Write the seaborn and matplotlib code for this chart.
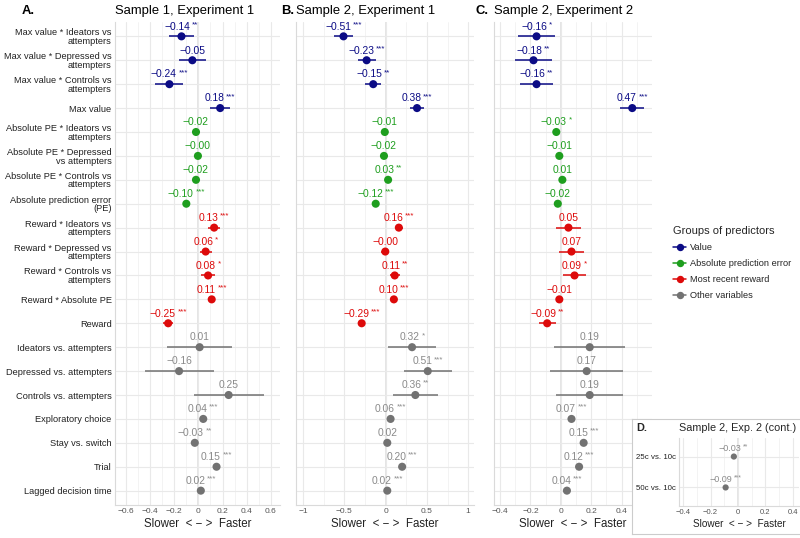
import numpy as np
import pandas as pd
import seaborn as sns
import matplotlib.pyplot as plt
from matplotlib.lines import Line2D

# predictors, top to bottom
predictors = [
    "Max value * Ideators vs\nattempters",
    "Max value * Depressed vs\nattempters",
    "Max value * Controls vs\nattempters",
    "Max value",
    "Absolute PE * Ideators vs\nattempters",
    "Absolute PE * Depressed\nvs attempters",
    "Absolute PE * Controls vs\nattempters",
    "Absolute prediction error\n(PE)",
    "Reward * Ideators vs\nattempters",
    "Reward * Depressed vs\nattempters",
    "Reward * Controls vs\nattempters",
    "Reward * Absolute PE",
    "Reward",
    "Ideators vs. attempters",
    "Depressed vs. attempters",
    "Controls vs. attempters",
    "Exploratory choice",
    "Stay vs. switch",
    "Trial",
    "Lagged decision time",
]
groups = (["Value"] * 4 + ["Absolute prediction error"] * 4
          + ["Most recent reward"] * 5 + ["Other variables"] * 7)

# Sample 1, Experiment 1
est_a = [-0.14, -0.05, -0.24, 0.18, -0.02, -0.004, -0.02, -0.10, 0.13, 0.06,
         0.08, 0.11, -0.25, 0.01, -0.16, 0.25, 0.04, -0.03, 0.15, 0.02]
ci_a = [0.105, 0.11, 0.115, 0.085, 0.02, 0.02, 0.02, 0.02, 0.05, 0.05,
        0.06, 0.025, 0.04, 0.27, 0.285, 0.29, 0.02, 0.02, 0.02, 0.02]
stars_a = ["**", "", "***", "***", "", "", "", "***", "***", "*",
           "*", "***", "***", "", "", "", "***", "**", "***", "***"]

# Sample 2, Experiment 1
est_b = [-0.51, -0.23, -0.15, 0.38, -0.01, -0.02, 0.03, -0.12, 0.16, -0.004,
         0.11, 0.10, -0.29, 0.32, 0.51, 0.36, 0.06, 0.02, 0.20, 0.02]
ci_b = [0.12, 0.11, 0.10, 0.08, 0.02, 0.02, 0.02, 0.02, 0.05, 0.05,
        0.06, 0.02, 0.04, 0.29, 0.29, 0.27, 0.02, 0.02, 0.02, 0.02]
stars_b = ["***", "***", "**", "***", "", "", "**", "***", "***", "",
           "**", "***", "***", "*", "***", "**", "***", "", "***", "***"]

# Sample 2, Experiment 2
est_c = [-0.16, -0.18, -0.16, 0.47, -0.03, -0.01, 0.01, -0.02, 0.05, 0.07,
         0.09, -0.01, -0.09, 0.19, 0.17, 0.19, 0.07, 0.15, 0.12, 0.04]
ci_c = [0.12, 0.12, 0.11, 0.08, 0.02, 0.015, 0.015, 0.015, 0.08, 0.08,
        0.075, 0.02, 0.055, 0.235, 0.24, 0.22, 0.02, 0.02, 0.02, 0.02]
stars_c = ["*", "**", "**", "***", "*", "", "", "", "", "",
           "*", "", "**", "", "", "", "***", "***", "***", "***"]

# Sample 2, Exp. 2 (cont.)
predictors_d = ["25c vs. 10c", "50c vs. 10c"]
groups_d = ["Other variables"] * 2
est_d = [-0.03, -0.09]
ci_d = [0.015, 0.02]
stars_d = ["**", "***"]

palette = {
    "Value": "#0B0B85",
    "Absolute prediction error": "#1E9E1E",
    "Most recent reward": "#DD0A0A",
    "Other variables": "#727272",
}
text_colors = dict(palette, **{"Other variables": "#8A8A8A"})

sns.set_theme(style="whitegrid")
plt.rcParams["font.family"] = ["Liberation Sans", "DejaVu Sans"]
plt.rcParams["axes.unicode_minus"] = True

W, H = 800, 538
fig = plt.figure(figsize=(W / 100, H / 100), dpi=100)


def box(l, t, r, b):
    return [l / W, 1 - b / H, (r - l) / W, (b - t) / H]


def fmt(v):
    return f"{v:.2f}".replace("-", "\u2212")


def panel(ax, names, grp, est, ci, stars, xlim, major, minor, pt=34,
          fs=7.4, sfs=5.8, lift=7, show_y=True, ytick_fs=6.7, xtick_fs=6.0,
          xlab_fs=8.3):
    df = pd.DataFrame({"row": np.arange(len(est)), "estimate": est, "ci": ci,
                       "group": grp, "stars": stars})
    ax.hlines(df["row"], df["estimate"] - df["ci"], df["estimate"] + df["ci"],
              colors=[palette[g] for g in df["group"]], lw=1.1, zorder=2)
    sns.scatterplot(data=df, x="estimate", y="row", hue="group",
                    palette=palette, s=pt, edgecolor="none", legend=False,
                    ax=ax, zorder=3)
    for _, r in df.iterrows():
        n = len(r["stars"])
        sw = n * 0.389 * sfs + (1.2 if n else 0)
        col = text_colors[r["group"]]
        t = ax.annotate(fmt(r["estimate"]), xy=(r["estimate"], r["row"]),
                        xytext=(-sw / 2, lift), textcoords="offset points",
                        ha="center", va="center", fontsize=fs, color=col,
                        zorder=4)
        if n:
            ax.annotate(r["stars"], xy=(1, 1), xycoords=t, xytext=(1.2, 0.3),
                        textcoords="offset points", ha="left", va="top",
                        fontsize=sfs, color=col, zorder=4)
    ax.set_xlim(*xlim)
    ax.set_ylim(len(est) - 1 + 0.6, -0.6)
    ax.set_xticks(major)
    ax.set_xticks(minor, minor=True)
    ax.set_xticklabels([("%g" % m).replace("-", "\u2212") for m in major],
                       fontsize=xtick_fs, color="#555555")
    ax.set_yticks(df["row"])
    if show_y:
        ax.set_yticklabels(names, fontsize=ytick_fs, color="#222222",
                           linespacing=0.95)
    else:
        ax.set_yticklabels([])
    ax.tick_params(axis="both", which="both", length=0, pad=2.5)
    ax.set_axisbelow(True)
    ax.grid(which="major", color="#E9E9E9", lw=0.8)
    ax.grid(which="minor", axis="x", color="#EFEFEF", lw=0.5)
    ax.axvline(0, color="#E0E0E0", lw=1.2, zorder=0.5)
    ax.set_facecolor("white")
    for s in ["top", "right"]:
        ax.spines[s].set_visible(False)
    for s in ["left", "bottom"]:
        ax.spines[s].set_color("#DADADA")
        ax.spines[s].set_linewidth(0.8)
    ax.set_xlabel("Slower  < \u2212 >  Faster", fontsize=xlab_fs,
                  color="#222222", labelpad=2)
    ax.set_ylabel("")


ax_a = fig.add_axes(box(115, 22, 280, 505))
panel(ax_a, predictors, groups, est_a, ci_a, stars_a, (-0.69, 0.675),
      [-0.6, -0.4, -0.2, 0, 0.2, 0.4, 0.6], [-0.5, -0.3, -0.1, 0.1, 0.3, 0.5])

ax_b = fig.add_axes(box(296, 22, 474, 505))
panel(ax_b, predictors, groups, est_b, ci_b, stars_b, (-1.085, 1.07),
      [-1, -0.5, 0, 0.5, 1], [-0.75, -0.25, 0.25, 0.75], show_y=False)

ax_c = fig.add_axes(box(494, 22, 652, 505))
panel(ax_c, predictors, groups, est_c, ci_c, stars_c, (-0.44, 0.6),
      [-0.4, -0.2, 0, 0.2, 0.4], [-0.3, -0.1, 0.1, 0.3, 0.5], show_y=False)

# panel titles
for ax, letter, title, lx in [(ax_a, "A.", "Sample 1, Experiment 1", 22),
                              (ax_b, "B.", "Sample 2, Experiment 1", 281),
                              (ax_c, "C.", "Sample 2, Experiment 2", 476)]:
    x0 = ax.get_position().x0
    fig.text(lx / W, 1 - 11 / H, letter, fontsize=9.4, fontweight="bold",
             va="center", ha="left", color="black")
    fig.text(x0, 1 - 11 / H, title, fontsize=9.4, va="center", ha="left",
             color="black")

# legend
handles = [Line2D([0], [0], color=c, marker="o", markersize=4.3, lw=1.1)
           for c in palette.values()]
fig.legend(handles, list(palette.keys()), title="Groups of predictors",
           loc="upper left", bbox_to_anchor=(665 / W, 1 - 218 / H),
           frameon=False, fontsize=6.7, title_fontsize=8, handlelength=1.4,
           handletextpad=0.4, labelspacing=0.75, alignment="left")

# inset panel D
bg = fig.add_axes(box(632, 419, 801, 534), zorder=5)
bg.set_facecolor("white")
bg.set_xticks([])
bg.set_yticks([])
bg.grid(False)
for s in bg.spines.values():
    s.set_color("#CCCCCC")
    s.set_linewidth(0.8)

ax_d = fig.add_axes(box(679, 438, 799, 506), zorder=6)
panel(ax_d, predictors_d, groups_d, est_d, ci_d, stars_d, (-0.43, 0.445),
      [-0.4, -0.2, 0, 0.2, 0.4], [-0.3, -0.1, 0.1, 0.3], pt=20, fs=6.5,
      sfs=5, lift=6, ytick_fs=5.7, xtick_fs=5.5, xlab_fs=7.2)
fig.text(636 / W, 1 - 428 / H, "D.", fontsize=7.8, fontweight="bold",
         va="center", ha="left", zorder=7)
fig.text(679 / W, 1 - 428 / H, "Sample 2, Exp. 2 (cont.)", fontsize=7.8,
         va="center", ha="left", zorder=7)

fig.savefig("out.png", dpi=100)
